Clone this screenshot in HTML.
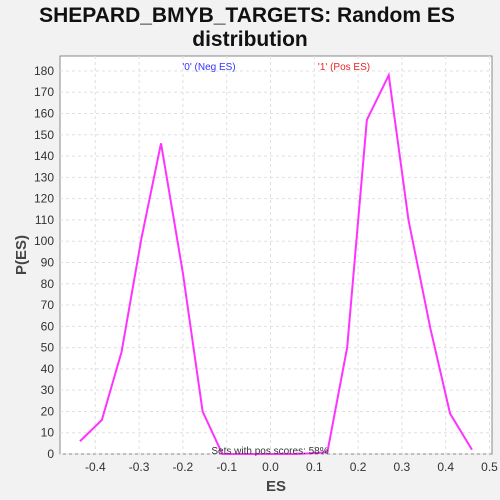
<!DOCTYPE html>
<html><head><meta charset="utf-8"><style>
body{margin:0;background:#f2f2f2;font-family:"Liberation Sans","DejaVu Sans",sans-serif}
</style></head><body>
<svg width="500" height="500" id="svg" style="display:block">
<rect width="500" height="500" fill="#f2f2f2"/>
<text x="247" y="22" text-anchor="middle" font-size="21" font-weight="bold" fill="#111">SHEPARD_BMYB_TARGETS: Random ES</text>
<text x="250" y="46" text-anchor="middle" font-size="21" font-weight="bold" fill="#111">distribution</text>
<rect x="60" y="56" width="432" height="398" fill="#fff" stroke="#888"/>
<g id="grid"></g><g id="ticks"></g>
<text x="209" y="70" text-anchor="middle" font-size="10" fill="#3333ff">'0' (Neg ES)</text>
<text x="344" y="70" text-anchor="middle" font-size="10" fill="#ee2222">'1' (Pos ES)</text>
<path id="line" fill="none" stroke="#ff33ff" stroke-width="2"/>
<text x="270" y="454" text-anchor="middle" font-size="10" fill="#333">Sets with pos scores: 58%</text>
<text x="276" y="491" text-anchor="middle" font-size="15" font-weight="bold" fill="#444">ES</text>
<text transform="translate(26,255) rotate(-90)" text-anchor="middle" font-size="15" font-weight="bold" fill="#444">P(ES)</text>
</svg>
<script>
const xs=[-0.435,-0.385,-0.34,-0.295,-0.25,-0.2,-0.155,-0.11,-0.06,0,0.06,0.11,0.13,0.175,0.22,0.27,0.315,0.365,0.41,0.46];
const ys=[6,16,48,101,146,85,20,0,0,0,0,0.5,1,50,157,178,110,59,19,2];
const xTicks=[-0.4,-0.3,-0.2,-0.1,0.0,0.1,0.2,0.3,0.4,0.5];
const yTicks=[0,10,20,30,40,50,60,70,80,90,100,110,120,130,140,150,160,170,180];
const X=v=>270.5+v*438, Y=v=>454-v*2.128;
const ns="http://www.w3.org/2000/svg";
const g=document.getElementById('grid'),t=document.getElementById('ticks');
function mk(p,tag,a,txt){const e=document.createElementNS(ns,tag);for(const k in a)e.setAttribute(k,a[k]);if(txt!=null)e.textContent=txt;p.appendChild(e);return e;}
xTicks.forEach(v=>{const x=X(v);
const l=mk(g,'line',{x1:x,x2:x,y1:56,y2:454,stroke:'#e0e0e0','stroke-dasharray':'3,3'});


const s=mk(t,'text',{x:x,y:471,'text-anchor':'middle','font-size':12,fill:'#333'},v.toFixed(1));

});
yTicks.forEach(v=>{const y=Y(v);
const l=mk(g,'line',{x1:60,x2:492,y1:y,y2:y,stroke:'#e0e0e0','stroke-dasharray':'3,3'});


const s=mk(t,'text',{x:54,y:y+4,'text-anchor':'end','font-size':12,fill:'#333'},v);

});
document.getElementById('line').setAttribute('d',xs.map((v,i)=>(i?'L':'M')+X(v)+','+Y(ys[i])).join(''));
</script>
</body></html>
